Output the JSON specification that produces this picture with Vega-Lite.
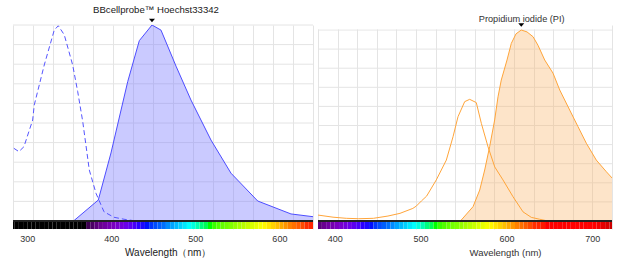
{
  "$schema": "https://vega.github.io/schema/vega-lite/v6.json",
  "padding": {"left": 12, "top": 5, "right": 5, "bottom": 4},
  "background": "white",
  "spacing": 3,
  "config": {"font": "Liberation Sans", "view": {"stroke": null}},
  "datasets": {
    "levels": [
      {"v": 0.1}, {"v": 0.2}, {"v": 0.3}, {"v": 0.4}, {"v": 0.5},
      {"v": 0.6}, {"v": 0.7}, {"v": 0.8}, {"v": 0.9}, {"v": 1.0}
    ],
    "hoechst_ex": [
      {"nm": 284, "v": 0.371}, {"nm": 290, "v": 0.354}, {"nm": 296, "v": 0.379}, {"nm": 306.4, "v": 0.515},
      {"nm": 308.3, "v": 0.592}, {"nm": 320.2, "v": 0.796}, {"nm": 332.1, "v": 0.974}, {"nm": 336.9, "v": 0.996},
      {"nm": 344, "v": 0.95}, {"nm": 354, "v": 0.796}, {"nm": 360, "v": 0.66}, {"nm": 366, "v": 0.507},
      {"nm": 373.8, "v": 0.26}, {"nm": 381.8, "v": 0.141}, {"nm": 391.3, "v": 0.047}, {"nm": 403.2, "v": 0.019},
      {"nm": 415.1, "v": 0.009}, {"nm": 429.4, "v": 0}
    ],
    "hoechst_em": [
      {"nm": 346, "v": 0}, {"nm": 355, "v": 0}, {"nm": 384.5, "v": 0.107}, {"nm": 399.6, "v": 0.347},
      {"nm": 419.5, "v": 0.711}, {"nm": 433.3, "v": 0.92}, {"nm": 448.4, "v": 1.0}, {"nm": 459.1, "v": 0.974},
      {"nm": 477, "v": 0.79}, {"nm": 494.8, "v": 0.617}, {"nm": 518.6, "v": 0.413}, {"nm": 542.4, "v": 0.244},
      {"nm": 574.2, "v": 0.102}, {"nm": 613.8, "v": 0.036}, {"nm": 640, "v": 0.022}
    ],
    "hoechst_peak": [{"nm": 448.4, "v": 1}],
    "pi_ex": [
      {"nm": 380.5, "v": 0.031}, {"nm": 398, "v": 0.02}, {"nm": 413.5, "v": 0.014}, {"nm": 428, "v": 0.012},
      {"nm": 445, "v": 0.014}, {"nm": 462, "v": 0.026}, {"nm": 476, "v": 0.04}, {"nm": 491, "v": 0.066},
      {"nm": 495, "v": 0.078}, {"nm": 501, "v": 0.105}, {"nm": 507, "v": 0.13}, {"nm": 518.3, "v": 0.215},
      {"nm": 530, "v": 0.319}, {"nm": 537.8, "v": 0.441}, {"nm": 543.6, "v": 0.546}, {"nm": 551.4, "v": 0.625},
      {"nm": 557.2, "v": 0.637}, {"nm": 564.9, "v": 0.62}, {"nm": 570.8, "v": 0.511}, {"nm": 578.6, "v": 0.388},
      {"nm": 586.4, "v": 0.283}, {"nm": 596, "v": 0.215}, {"nm": 607.7, "v": 0.127}, {"nm": 619.3, "v": 0.048},
      {"nm": 629, "v": 0.019}, {"nm": 638.8, "v": 0.009}, {"nm": 648.4, "v": 0}
    ],
    "pi_em": [
      {"nm": 545.6, "v": 0}, {"nm": 547.4, "v": 0.005}, {"nm": 561.1, "v": 0.075}, {"nm": 568.9, "v": 0.162},
      {"nm": 574.7, "v": 0.267}, {"nm": 580.5, "v": 0.39}, {"nm": 586.3, "v": 0.529}, {"nm": 590.2, "v": 0.65},
      {"nm": 594, "v": 0.738}, {"nm": 600.7, "v": 0.843}, {"nm": 605.7, "v": 0.93}, {"nm": 611.2, "v": 0.98},
      {"nm": 617.3, "v": 1.0}, {"nm": 624, "v": 0.99}, {"nm": 631, "v": 0.965}, {"nm": 636.8, "v": 0.92},
      {"nm": 644.6, "v": 0.843}, {"nm": 654.3, "v": 0.774}, {"nm": 662.1, "v": 0.686}, {"nm": 673.7, "v": 0.581},
      {"nm": 683.4, "v": 0.494}, {"nm": 693.1, "v": 0.407}, {"nm": 704.7, "v": 0.319}, {"nm": 716.4, "v": 0.258},
      {"nm": 723.3, "v": 0.224}
    ],
    "pi_peak": [{"nm": 617.3, "v": 1}],
    "spectrum": [
      {"nm": 280, "nm2": 285}, {"nm": 285, "nm2": 290}, {"nm": 290, "nm2": 295}, {"nm": 295, "nm2": 300},
      {"nm": 300, "nm2": 305}, {"nm": 305, "nm2": 310}, {"nm": 310, "nm2": 315}, {"nm": 315, "nm2": 320},
      {"nm": 320, "nm2": 325}, {"nm": 325, "nm2": 330}, {"nm": 330, "nm2": 335}, {"nm": 335, "nm2": 340},
      {"nm": 340, "nm2": 345}, {"nm": 345, "nm2": 350}, {"nm": 350, "nm2": 355}, {"nm": 355, "nm2": 360},
      {"nm": 360, "nm2": 365}, {"nm": 365, "nm2": 370}, {"nm": 370, "nm2": 375}, {"nm": 375, "nm2": 380},
      {"nm": 380, "nm2": 385}, {"nm": 385, "nm2": 390}, {"nm": 390, "nm2": 395}, {"nm": 395, "nm2": 400},
      {"nm": 400, "nm2": 405}, {"nm": 405, "nm2": 410}, {"nm": 410, "nm2": 415}, {"nm": 415, "nm2": 420},
      {"nm": 420, "nm2": 425}, {"nm": 425, "nm2": 430}, {"nm": 430, "nm2": 435}, {"nm": 435, "nm2": 440},
      {"nm": 440, "nm2": 445}, {"nm": 445, "nm2": 450}, {"nm": 450, "nm2": 455}, {"nm": 455, "nm2": 460},
      {"nm": 460, "nm2": 465}, {"nm": 465, "nm2": 470}, {"nm": 470, "nm2": 475}, {"nm": 475, "nm2": 480},
      {"nm": 480, "nm2": 485}, {"nm": 485, "nm2": 490}, {"nm": 490, "nm2": 495}, {"nm": 495, "nm2": 500},
      {"nm": 500, "nm2": 505}, {"nm": 505, "nm2": 510}, {"nm": 510, "nm2": 515}, {"nm": 515, "nm2": 520},
      {"nm": 520, "nm2": 525}, {"nm": 525, "nm2": 530}, {"nm": 530, "nm2": 535}, {"nm": 535, "nm2": 540},
      {"nm": 540, "nm2": 545}, {"nm": 545, "nm2": 550}, {"nm": 550, "nm2": 555}, {"nm": 555, "nm2": 560},
      {"nm": 560, "nm2": 565}, {"nm": 565, "nm2": 570}, {"nm": 570, "nm2": 575}, {"nm": 575, "nm2": 580},
      {"nm": 580, "nm2": 585}, {"nm": 585, "nm2": 590}, {"nm": 590, "nm2": 595}, {"nm": 595, "nm2": 600},
      {"nm": 600, "nm2": 605}, {"nm": 605, "nm2": 610}, {"nm": 610, "nm2": 615}, {"nm": 615, "nm2": 620},
      {"nm": 620, "nm2": 625}, {"nm": 625, "nm2": 630}, {"nm": 630, "nm2": 635}, {"nm": 635, "nm2": 640},
      {"nm": 640, "nm2": 645}, {"nm": 645, "nm2": 650}, {"nm": 650, "nm2": 655}, {"nm": 655, "nm2": 660},
      {"nm": 660, "nm2": 665}, {"nm": 665, "nm2": 670}, {"nm": 670, "nm2": 675}, {"nm": 675, "nm2": 680},
      {"nm": 680, "nm2": 685}, {"nm": 685, "nm2": 690}, {"nm": 690, "nm2": 695}, {"nm": 695, "nm2": 700},
      {"nm": 700, "nm2": 705}, {"nm": 705, "nm2": 710}, {"nm": 710, "nm2": 715}, {"nm": 715, "nm2": 720},
      {"nm": 720, "nm2": 725}
    ]
  },
  "hconcat": [
    {
      "width": 300,
      "height": 204,
      "title": {"text": "BBcellprobe™ Hoechst33342", "fontSize": 9.6, "fontWeight": "normal", "color": "#1a1a1a", "frame": "group", "anchor": "middle", "dx": -7, "offset": 4},
      "resolve": {"axis": {"x": "independent", "y": "shared"}},
      "layer": [
        {
          "data": {"name": "levels"},
          "mark": {"type": "rule", "color": "#e4e4e4", "strokeWidth": 1},
          "encoding": {
            "y": {"field": "v", "type": "quantitative", "scale": {"domain": [-0.0408, 1], "nice": false, "zero": false}, "axis": null}
          }
        },
        {
          "data": {"name": "spectrum"},
          "mark": {"type": "rect", "clip": true},
          "encoding": {
            "x": {"field": "nm", "type": "quantitative", "scale": {"domain": [283, 640], "nice": false, "zero": false},
              "axis": {"orient": "top", "values": [283, 306.8, 330.6, 354.4, 378.2, 402, 425.8, 449.6, 473.4, 497.2, 521, 544.8, 568.6, 592.4, 616.2, 640], "grid": true, "gridColor": "#e4e4e4", "gridWidth": 1, "labels": false, "ticks": false, "tickSize": 0, "labelPadding": 0, "domain": false, "title": null, "minExtent": 0, "maxExtent": 0}},
            "x2": {"field": "nm2"},
            "y": {"datum": -0.0408, "type": "quantitative", "scale": {"domain": [-0.0408, 1], "nice": false, "zero": false}, "axis": null},
            "y2": {"datum": 0},
            "color": {"field": "nm", "type": "quantitative", "legend": null,
              "scale": {"domain": [280, 368, 370, 385, 400, 415, 430, 440, 460, 480, 490, 505, 515, 540, 560, 578, 595, 610, 630, 645, 700, 725],
                "range": ["#000000", "#000000", "#3d0050", "#6a0090", "#7a00c0", "#6a00e8", "#2a00ff", "#0010ff", "#0070ff", "#00d0ff", "#00ffff", "#00ff80", "#00ff00", "#80ff00", "#c8ff00", "#ffff00", "#ffc000", "#ff8000", "#ff3000", "#ff0000", "#ff0000", "#c00000"]}}
          }
        },
        {
          "data": {"name": "hoechst_em"},
          "mark": {"type": "area", "fill": "#7b7bff", "fillOpacity": 0.4, "clip": true},
          "encoding": {
            "x": {"field": "nm", "type": "quantitative", "scale": {"domain": [283, 640], "nice": false, "zero": false},
              "axis": {"orient": "bottom", "values": [300, 400, 500, 600], "grid": false, "ticks": false, "tickSize": 0, "domain": false, "labelFlush": false, "labelFontSize": 9, "labelColor": "#333333", "labelPadding": 5, "title": "Wavelength（nm）", "titleFontSize": 10, "titleFontWeight": "normal", "titleColor": "#222222", "titlePadding": 4, "titleX": 154.7}},
            "y": {"field": "v", "type": "quantitative", "scale": {"domain": [-0.0408, 1], "nice": false, "zero": false}, "axis": null},
            "y2": {"datum": 0}
          }
        },
        {
          "data": {"name": "hoechst_em"},
          "mark": {"type": "line", "color": "#4d4dff", "strokeWidth": 1, "clip": true},
          "encoding": {
            "x": {"field": "nm", "type": "quantitative", "axis": null},
            "y": {"field": "v", "type": "quantitative", "axis": null}
          }
        },
        {
          "data": {"name": "hoechst_ex"},
          "mark": {"type": "line", "color": "#5555ff", "strokeWidth": 1, "strokeDash": [5, 3], "clip": true},
          "encoding": {
            "x": {"field": "nm", "type": "quantitative", "axis": null},
            "y": {"field": "v", "type": "quantitative", "axis": null}
          }
        },
        {
          "data": {"name": "hoechst_em"},
          "mark": {"type": "rule", "color": "#222222", "strokeWidth": 1.2},
          "encoding": {"y": {"datum": 0, "type": "quantitative", "axis": null}}
        },
        {
          "data": {"name": "hoechst_peak"},
          "mark": {"type": "point", "shape": "M-1,-0.6L1,-0.6L0,0.6Z", "size": 36, "filled": true, "color": "#000000", "opacity": 1},
          "encoding": {
            "x": {"field": "nm", "type": "quantitative", "axis": null},
            "y": {"field": "v", "type": "quantitative", "axis": null},
            "yOffset": {"value": -4.5}
          }
        }
      ]
    },
    {
      "width": 294,
      "height": 204,
      "title": {"text": "Propidium iodide (PI)", "fontSize": 9.2, "fontWeight": "normal", "color": "#333333", "frame": "group", "anchor": "middle", "dx": 56.7, "offset": -1},
      "resolve": {"axis": {"x": "independent", "y": "shared"}},
      "layer": [
        {
          "data": {"name": "levels"},
          "mark": {"type": "rule", "color": "#e4e4e4", "strokeWidth": 1},
          "encoding": {
            "y": {"field": "v", "type": "quantitative", "scale": {"domain": [-0.0419, 1.0262], "nice": false, "zero": false}, "axis": null}
          }
        },
        {
          "data": {"name": "spectrum"},
          "mark": {"type": "rect", "clip": true},
          "encoding": {
            "x": {"field": "nm", "type": "quantitative", "scale": {"domain": [380.5, 723], "nice": false, "zero": false},
              "axis": {"orient": "top", "values": [380.5, 403.33, 426.17, 449, 471.83, 494.67, 517.5, 540.33, 563.17, 586, 608.83, 631.67, 654.5, 677.33, 700.17, 723], "grid": true, "gridColor": "#e4e4e4", "gridWidth": 1, "labels": false, "ticks": false, "tickSize": 0, "labelPadding": 0, "domain": false, "title": null, "minExtent": 0, "maxExtent": 0}},
            "x2": {"field": "nm2"},
            "y": {"datum": -0.0419, "type": "quantitative", "scale": {"domain": [-0.0419, 1.0262], "nice": false, "zero": false}, "axis": null},
            "y2": {"datum": 0},
            "color": {"field": "nm", "type": "quantitative", "legend": null,
              "scale": {"domain": [280, 368, 370, 385, 400, 415, 430, 440, 460, 480, 490, 505, 515, 540, 560, 578, 595, 610, 630, 645, 700, 725],
                "range": ["#000000", "#000000", "#3d0050", "#6a0090", "#7a00c0", "#6a00e8", "#2a00ff", "#0010ff", "#0070ff", "#00d0ff", "#00ffff", "#00ff80", "#00ff00", "#80ff00", "#c8ff00", "#ffff00", "#ffc000", "#ff8000", "#ff3000", "#ff0000", "#ff0000", "#c00000"]}}
          }
        },
        {
          "data": {"name": "pi_peak"},
          "mark": {"type": "rect", "color": "#ffffff", "opacity": 1},
          "encoding": {
            "y": {"datum": 1.004, "type": "quantitative", "axis": null},
            "y2": {"datum": 1.0262}
          }
        },
        {
          "data": {"name": "pi_em"},
          "mark": {"type": "area", "fill": "#fbb870", "fillOpacity": 0.38, "clip": true},
          "encoding": {
            "x": {"field": "nm", "type": "quantitative", "scale": {"domain": [380.5, 723], "nice": false, "zero": false},
              "axis": {"orient": "bottom", "values": [400, 500, 600, 700], "grid": false, "ticks": false, "tickSize": 0, "domain": false, "labelFlush": false, "labelFontSize": 9, "labelColor": "#333333", "labelPadding": 5, "title": "Wavelength (nm)", "titleFontSize": 9.5, "titleFontWeight": "normal", "titleColor": "#333333", "titlePadding": 4, "titleX": 187}},
            "y": {"field": "v", "type": "quantitative", "scale": {"domain": [-0.0419, 1.0262], "nice": false, "zero": false}, "axis": null},
            "y2": {"datum": 0}
          }
        },
        {
          "data": {"name": "pi_em"},
          "mark": {"type": "line", "color": "#ffa53a", "strokeWidth": 1, "clip": true},
          "encoding": {
            "x": {"field": "nm", "type": "quantitative", "axis": null},
            "y": {"field": "v", "type": "quantitative", "axis": null}
          }
        },
        {
          "data": {"name": "pi_ex"},
          "mark": {"type": "line", "color": "#ffa53a", "strokeWidth": 1, "clip": true},
          "encoding": {
            "x": {"field": "nm", "type": "quantitative", "axis": null},
            "y": {"field": "v", "type": "quantitative", "axis": null}
          }
        },
        {
          "data": {"name": "pi_em"},
          "mark": {"type": "rule", "color": "#222222", "strokeWidth": 1.2},
          "encoding": {"y": {"datum": 0, "type": "quantitative", "axis": null}}
        },
        {
          "data": {"name": "pi_peak"},
          "mark": {"type": "point", "shape": "M-1,-0.6L1,-0.6L0,0.6Z", "size": 36, "filled": true, "color": "#000000", "opacity": 1},
          "encoding": {
            "x": {"field": "nm", "type": "quantitative", "axis": null},
            "y": {"field": "v", "type": "quantitative", "axis": null},
            "yOffset": {"value": -5}
          }
        }
      ]
    }
  ]
}
